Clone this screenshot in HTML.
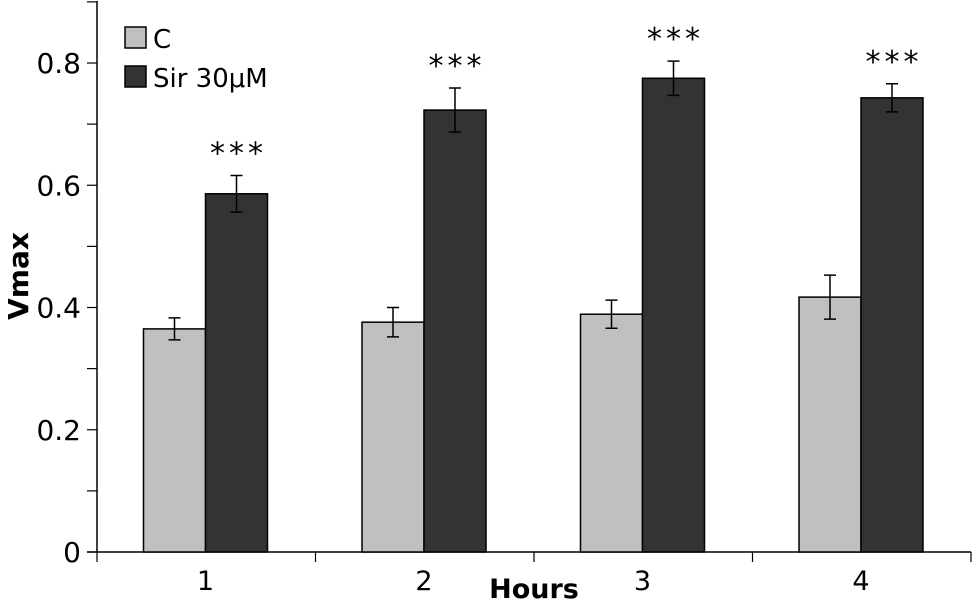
<!DOCTYPE html>
<html><head><meta charset="utf-8"><style>
html,body{margin:0;padding:0;background:#fff;}
svg{display:block;font-family:"DejaVu Sans","Liberation Sans",sans-serif;}
</style></head><body>
<svg id="chart" width="974" height="603" viewBox="0 0 974 603">
<g id="axes"></g>
<g id="bars"></g>
<g id="legend">
  <rect x="125" y="27" width="21" height="21" fill="#c0c0c0" stroke="#000" stroke-width="1.5"/>
  <text x="153" y="48" font-size="26">C</text>
  <rect x="125" y="66" width="21" height="21" fill="#333" stroke="#000" stroke-width="1.5"/>
  <text x="153" y="87" font-size="26">Sir 30μM</text>
</g>
<text x="534" y="598" font-size="27" font-weight="bold" text-anchor="middle">Hours</text>
<text transform="translate(28,276) rotate(-90)" font-size="28" font-weight="bold" text-anchor="middle">Vmax</text>
</svg>
<script>
const categories = ["1","2","3","4"];
const controlValues = [0.365, 0.376, 0.389, 0.417];
const controlErrors = [0.018, 0.024, 0.023, 0.036];
const sirValues = [0.586, 0.723, 0.775, 0.743];
const sirErrors = [0.030, 0.036, 0.028, 0.023];
const significance = ["***","***","***","***"];
const yTicks = [0, 0.2, 0.4, 0.6, 0.8];
const yTickLabels = ["0","0.2","0.4","0.6","0.8"];

const NS="http://www.w3.org/2000/svg";
const x0=97, x1=971, yBase=552, yTopPx=63, yTopVal=0.8;
const y = v => yBase - (yBase - yTopPx) * v / yTopVal;
const gw = (x1 - x0) / categories.length;
const bw = 62, off = 46.5;
function mk(tag, attrs, parent){const e=document.createElementNS(NS,tag);for(const k in attrs)e.setAttribute(k,attrs[k]);parent.appendChild(e);return e;}
const axes=document.getElementById('axes'), bars=document.getElementById('bars');

let yl=mk('line',{x1:x0,y1:1,x2:x0,y2:yBase,stroke:'#000','stroke-width':1.5},axes);


let xl=mk('line',{x1:87,y1:yBase,x2:x1,y2:yBase,stroke:'#000','stroke-width':1.5},axes);


for(let v=0.1; v<0.95; v+=0.2){
  const t=mk('line',{x1:87,y1:y(v),x2:x0,y2:y(v),stroke:'#000','stroke-width':1.2},axes);
  
  
}
yTicks.forEach((v,i)=>{
  const t=mk('line',{x1:87,y1:y(v),x2:x0,y2:y(v),stroke:'#000','stroke-width':1.2},axes);
  
  
  const l=mk('text',{x:81,y:y(v)+10,'font-size':28,'text-anchor':'end'},axes);
  l.textContent=yTickLabels[i];
  
  
});
for(let i=0;i<=categories.length;i++){
  const t=mk('line',{x1:x0+gw*i,y1:yBase,x2:x0+gw*i,y2:562,stroke:'#000','stroke-width':1.2},axes);
  
  
}
categories.forEach((c,i)=>{
  const gx=x0+gw*i+off;
  const l=mk('text',{x:gx+bw,y:590,'font-size':27,'text-anchor':'middle'},axes);
  l.textContent=c;
  
  
  [[controlValues,controlErrors,'#c0c0c0','c'],[sirValues,sirErrors,'#333','sir']].forEach((s,j)=>{
    const v=s[0][i], e=s[1][i], bx=gx+bw*j;
    const r=mk('rect',{x:bx,y:y(v),width:bw,height:yBase-y(v),fill:s[2],stroke:'#000','stroke-width':1.5},bars);
    
    
    const cx=bx+bw/2;
    const eb=mk('path',{d:`M${cx},${y(v+e)}V${y(v-e)}M${cx-6},${y(v+e)}H${cx+6}M${cx-6},${y(v-e)}H${cx+6}`,stroke:'#000','stroke-width':1.5,fill:'none'},bars);
    
    
  });
  const cx=gx+bw*1.5;
  const st=mk('text',{x:cx+2,y:y(sirValues[i]+sirErrors[i])-12,'font-size':30,'letter-spacing':4,'text-anchor':'middle'},bars);
  st.textContent=significance[i];
  
  
});
</script>
</body></html>
